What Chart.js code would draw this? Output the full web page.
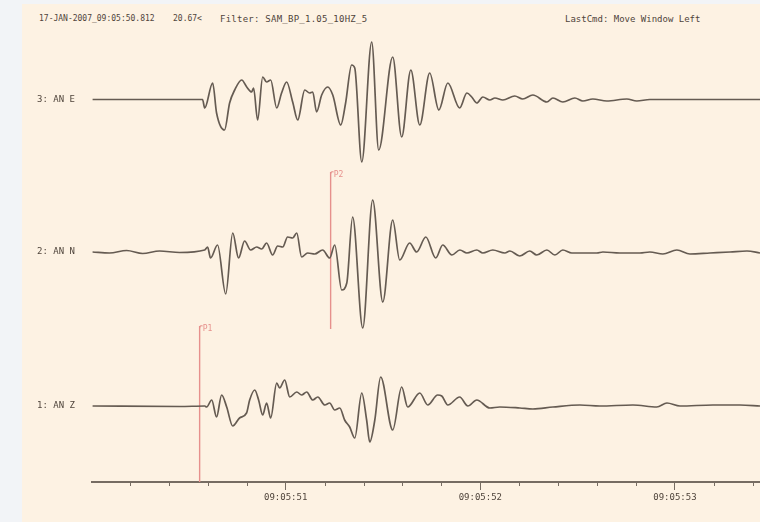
<!DOCTYPE html>
<html>
<head>
<meta charset="utf-8">
<script src="https://cdn.jsdelivr.net/npm/chart.js@4.4.1/dist/chart.umd.min.js"></script>
<style>
  html,body{margin:0;padding:0;width:760px;height:522px;overflow:hidden;background:#f2f4f7;}
  #panel{position:absolute;left:22px;top:4px;width:738px;height:518px;background:#fdf2e3;}
  #wrap{position:absolute;left:0;top:0;width:760px;height:522px;}
  .hdr{position:absolute;font-family:"DejaVu Sans Mono",monospace;color:#4f443b;white-space:pre;line-height:10px;}
</style>
</head>
<body>
<div id="panel"></div>
<div class="hdr" style="left:39px;top:14px;font-size:8px;">17-JAN-2007_09:05:50.812</div>
<div class="hdr" style="left:173px;top:14px;font-size:8px;">20.67&lt;</div>
<div class="hdr" style="left:220px;top:14px;font-size:9px;letter-spacing:0.25px;">Filter: SAM_BP_1.05_10HZ_5</div>
<div class="hdr" style="left:565px;top:14px;font-size:9px;">LastCmd: Move Window Left</div>
<div id="wrap"><canvas id="c" width="760" height="522"></canvas></div>
<script>
// ---- data (time in seconds after 09:05:00, amplitude in display counts) ----
const traceNames = ['1: AN Z', '2: AN N', '3: AN E'];
const traceOffsets = [0, 154, 306.5];

const zTime = [50.008,50.455,50.584,50.594,50.620,50.645,50.671,50.697,50.728,50.763,50.799,50.815,50.841,50.861,50.882,50.902,50.923,50.954,50.969,50.995,51.021,51.057,51.082,51.108,51.139,51.165,51.201,51.226,51.252,51.278,51.303,51.329,51.355,51.391,51.416,51.432,51.458,51.488,51.550,51.596,51.627,51.689,51.730,51.781,51.802,51.833,51.894,51.936,51.982,52.049,52.100,52.203,52.270,52.373,52.512,52.614,52.784,52.907,52.959,53.026,53.195,53.334,53.437];
const zAmp  = [0,-0.5,0,-1,6,-11,11,-1,-20,-12,-7,6,16,6,-9,3,-12,23,18,26,9,14,11,14,6,9,1,3,-4,-2,-14,-21,-32,13,-14,-36,-14,29,-24,19,-1,13,1,11,10,1,9,0,6,-2,-1,-2,-3,-1,1,0,1,-1,3,0,1,1,0];

const nTime = [50.008,50.095,50.183,50.265,50.352,50.455,50.584,50.599,50.614,50.650,50.692,50.728,50.758,50.789,50.820,50.851,50.877,50.902,50.933,50.959,50.985,51.010,51.036,51.057,51.082,51.113,51.149,51.190,51.226,51.252,51.288,51.314,51.344,51.396,51.447,51.499,51.550,51.586,51.637,51.673,51.720,51.771,51.807,51.854,51.895,51.931,51.982,52.013,52.064,52.126,52.152,52.203,52.254,52.290,52.342,52.383,52.424,52.470,52.599,52.630,52.717,52.820,52.871,52.938,53.010,53.077,53.180,53.283,53.370,53.437];
const nAmp  = [0,-1,1.5,-1.5,1,-0.5,2,5,-6,7,-42,19,-6,11,2,5,3,9,-3,6,5,15,14,19,-5,-1,-2,2,-6,7,-38,-31,35,-76,52,-50,32,-8,9,0,15,-6,7,-3,2,-1,2,-1,2,-1,1,-4,1,-3,2,-3,2,-1,-1,0,-1,-1,0,-2,2,-2,-1,0,1,-1];

const eTime = [50.008,50.573,50.584,50.625,50.645,50.686,50.712,50.738,50.774,50.800,50.825,50.835,50.856,50.882,50.902,50.923,50.954,50.979,51.005,51.036,51.062,51.098,51.123,51.139,51.159,51.185,51.216,51.242,51.283,51.308,51.339,51.355,51.391,51.442,51.478,51.550,51.596,51.643,51.689,51.740,51.787,51.833,51.894,51.931,51.956,51.982,52.013,52.049,52.075,52.116,52.177,52.218,52.270,52.342,52.373,52.424,52.486,52.527,52.578,52.650,52.753,52.804,52.871,52.959,53.437];
const eAmp  = [0,0,-8.5,16.5,-13.5,-30.5,-3.5,9.5,19.5,12.5,7.5,11.5,-20.5,22.5,17.5,19.5,-8.5,6.5,17.5,-2.5,-20.5,9.5,6.5,7.5,-12.5,4.5,12.5,4.5,-25.5,-3.5,34.5,31.5,-62.5,57.5,-50.5,42.5,-37.5,29.5,-25.5,26.5,-10.5,16.5,-8.5,6.5,2.5,-3.5,2.5,-0.5,1.5,-0.5,3.5,0.5,4.5,-2.5,1.5,-2.5,1.5,-1.5,0.5,-1.5,0.5,-1.5,0,0,0];

const pickNames = ['P1', 'P2'];
const pickTimes = [50.558, 51.231];
const pickTrace = [0, 1];
const pickHalfSpan = [-77, 80];

const majorTicks = [51, 52, 53];
const majorLabels = ['09:05:51', '09:05:52', '09:05:53'];
const minorTicks = [50.2,50.4,50.6,50.8,51.2,51.4,51.6,51.8,52.2,52.4,52.6,52.8,53.2,53.4];

const xMin = 50.005, xMax = 53.437;

// ---- styles ----
const traceColor = '#655b52';
const axisColor = '#766c62';
const pickColor = '#e6908c';
const textColor = '#4f443b';

function pts(t, a, off){ return t.map((v,i)=>({x:v, y:a[i]+off})); }

const datasets = [
  {data: pts(zTime, zAmp, traceOffsets[0])},
  {data: pts(nTime, nAmp, traceOffsets[1])},
  {data: pts(eTime, eAmp, traceOffsets[2])}
].map(d => Object.assign(d, {borderColor: traceColor, borderWidth: 1.7, pointRadius: 0, cubicInterpolationMode: 'monotone', fill: false}));

pickTimes.forEach((p, i) => {
  const off = traceOffsets[pickTrace[i]];
  datasets.push({data: [{x:p, y:off + pickHalfSpan[0]}, {x:p, y:off + pickHalfSpan[1]}],
    borderColor: pickColor, borderWidth: 1.4, pointRadius: 0, tension: 0, fill: false});
});

const decor = {
  id: 'decor',
  afterDraw(chart){
    const {ctx, scales:{x, y}, chartArea} = chart;
    ctx.save();
    ctx.strokeStyle = axisColor; ctx.lineWidth = 1;
    minorTicks.forEach(t => {
      const px = Math.round(x.getPixelForValue(t)) + 0.5;
      ctx.beginPath(); ctx.moveTo(px, chartArea.bottom); ctx.lineTo(px, chartArea.bottom + 4); ctx.stroke();
    });
    ctx.fillStyle = pickColor; ctx.strokeStyle = pickColor;
    ctx.font = '8px "DejaVu Sans Mono"';
    ctx.textBaseline = 'top';
    pickTimes.forEach((p, i) => {
      const px = x.getPixelForValue(p);
      const py = y.getPixelForValue(traceOffsets[pickTrace[i]] + pickHalfSpan[1]);
      ctx.beginPath(); ctx.lineWidth = 1.2;
      ctx.moveTo(px, py + 2); ctx.quadraticCurveTo(px, py - 1, px + 3, py); ctx.stroke();
      ctx.fillText(pickNames[i], px + 3, py - 1);
    });
    ctx.restore();
  }
};

new Chart(document.getElementById('c'), {
  type: 'line',
  data: {datasets},
  options: {
    responsive: false, animation: false, devicePixelRatio: 1,
    layout: {padding: {top: 30, right: 0, bottom: 0, left: 0}},
    plugins: {legend: {display: false}, tooltip: {enabled: false}},
    scales: {
      x: {
        type: 'linear', min: xMin, max: xMax,
        afterBuildTicks: s => { s.ticks = majorTicks.map(v => ({value: v})); },
        afterFit: s => { s.height = 40; },
        ticks: {autoSkip: false, maxRotation: 0, padding: 2, color: textColor,
          font: {family: 'DejaVu Sans Mono', size: 9},
          callback: v => { const i = majorTicks.indexOf(v); return i >= 0 ? majorLabels[i] : ''; }},
        grid: {drawOnChartArea: false, drawTicks: true, tickLength: 8, tickColor: axisColor, tickWidth: 1},
        border: {display: true, color: axisColor, width: 2}
      },
      y: {
        type: 'linear', min: -76, max: 376,
        afterBuildTicks: s => { s.ticks = traceOffsets.map(v => ({value: v})); },
        afterFit: s => { s.width = 92; },
        ticks: {autoSkip: false, padding: 17, color: textColor,
          font: {family: 'DejaVu Sans Mono', size: 9},
          callback: v => { const i = traceOffsets.indexOf(v); return i >= 0 ? traceNames[i] : ''; }},
        grid: {display: false, drawTicks: false},
        border: {display: false}
      }
    }
  },
  plugins: [decor]
});
</script>
</body>
</html>
